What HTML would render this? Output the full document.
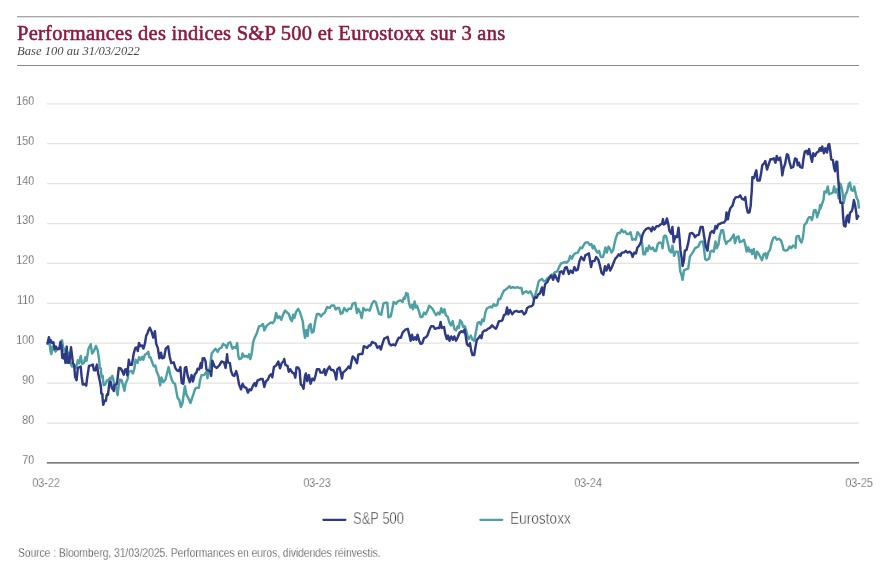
<!DOCTYPE html>
<html><head><meta charset="utf-8"><title>Chart</title>
<style>
html,body{margin:0;padding:0;background:#fff;}
body{width:891px;height:564px;position:relative;overflow:hidden;font-family:"Liberation Sans",sans-serif;}
.title{position:absolute;left:17px;top:20.6px;will-change:transform;font-family:"Liberation Serif",serif;font-weight:normal;font-size:20.5px;color:#8c1a42;-webkit-text-stroke:0.55px #8c1a42;white-space:nowrap;letter-spacing:0.25px;line-height:24px;}
.sub{position:absolute;left:17px;top:44px;will-change:transform;font-family:"Liberation Serif",serif;font-style:italic;font-size:12.6px;color:#4a4a4a;white-space:nowrap;line-height:14px;}
.yl{position:absolute;left:0;width:34.2px;text-align:right;font-size:13px;color:#2c2c2c;-webkit-text-stroke:0.33px #fff;will-change:transform;line-height:16px;transform:scaleX(0.83);transform-origin:100% 50%;}
.xl{position:absolute;top:475px;width:60px;margin-left:-30px;text-align:center;font-size:13px;color:#2c2c2c;-webkit-text-stroke:0.33px #fff;will-change:transform;line-height:16px;white-space:nowrap;transform:scaleX(0.83);transform-origin:50% 50%;}
.leg{position:absolute;top:509.5px;font-size:16px;color:#343434;-webkit-text-stroke:0.4px #fff;will-change:transform;line-height:18px;white-space:nowrap;transform-origin:0 50%;}
.foot{position:absolute;left:17.6px;top:545.5px;font-size:12px;color:#303030;-webkit-text-stroke:0.28px #fff;will-change:transform;line-height:14px;white-space:nowrap;transform:scaleX(0.852);transform-origin:0 50%;}
svg{position:absolute;left:0;top:0;}
</style></head><body>
<div class="title">Performances des indices S&amp;P 500 et Eurostoxx sur 3 ans</div>
<div class="sub">Base 100 au 31/03/2022</div>
<div class="yl" style="top:92.7px">160</div><div class="yl" style="top:132.6px">150</div><div class="yl" style="top:172.5px">140</div><div class="yl" style="top:212.4px">130</div><div class="yl" style="top:252.3px">120</div><div class="yl" style="top:292.2px">110</div><div class="yl" style="top:332.1px">100</div><div class="yl" style="top:372.0px">90</div><div class="yl" style="top:411.9px">80</div><div class="yl" style="top:451.8px">70</div>
<svg width="891" height="564" viewBox="0 0 891 564">
<g stroke="#8b8789" stroke-width="1.05"><line x1="17" x2="859" y1="16.68" y2="16.68"/><line x1="17" x2="859" y1="65.58" y2="65.58"/></g>
<g stroke="#e6e3dd" stroke-width="1.25"><line x1="46.8" x2="859" y1="103.80" y2="103.80"/><line x1="46.8" x2="859" y1="143.70" y2="143.70"/><line x1="46.8" x2="859" y1="183.60" y2="183.60"/><line x1="46.8" x2="859" y1="223.50" y2="223.50"/><line x1="46.8" x2="859" y1="263.40" y2="263.40"/><line x1="46.8" x2="859" y1="303.30" y2="303.30"/><line x1="46.8" x2="859" y1="343.20" y2="343.20"/><line x1="46.8" x2="859" y1="383.10" y2="383.10"/><line x1="46.8" x2="859" y1="423.00" y2="423.00"/></g>
<line x1="46.8" x2="859" y1="462.85" y2="462.85" stroke="#505050" stroke-width="1.45"/>
<polyline fill="none" stroke="#4fa0a3" stroke-width="2.45" stroke-linejoin="round" stroke-linecap="butt" points="46.5,343.5 49.7,344.2 50.6,351.6 51.4,354.1 52.4,346.6 53.7,349.1 55.5,351.6 57.4,349.1 59.9,347.9 61.1,342.3 62.1,340.4 63.0,346.6 64.2,351.6 64.8,349.1 66.1,355.3 67.3,359.0 68.6,352.8 69.8,361.5 72.0,366.5 73.5,365.9 76.0,367.7 77.9,360.3 79.1,363.4 80.7,355.9 82.2,364.0 84.1,362.8 85.3,357.2 86.6,360.9 88.4,349.1 90.7,344.2 92.1,353.5 94.0,351.0 95.9,346.0 97.7,350.4 99.0,359.0 99.8,367.7 100.8,368.5 101.5,377.2 102.7,375.9 103.6,385.2 105.2,384.6 107.0,380.3 108.9,379.6 110.1,377.8 111.4,379.0 112.3,375.9 113.3,379.6 114.1,383.4 115.7,384.6 116.4,389.6 117.6,395.2 118.8,384.6 120.1,379.6 121.7,380.3 122.9,384.6 124.4,390.8 125.7,383.4 127.5,379.6 128.8,371.6 131.3,371.0 132.9,373.4 134.4,368.5 135.6,359.8 137.5,362.9 139.0,357.3 140.6,359.8 142.1,356.7 143.3,359.8 144.9,354.8 146.8,353.6 148.3,351.7 149.3,357.3 150.6,357.5 152.2,362.3 153.8,366.3 155.4,365.5 156.5,371.1 158.6,375.9 160.2,385.4 161.4,377.4 163.3,382.2 165.4,379.8 167.0,373.5 168.6,367.1 170.2,374.3 171.8,379.8 173.4,383.0 175.0,383.8 176.6,392.6 177.7,398.2 179.3,399.8 180.9,407.0 182.5,403.0 184.1,391.8 184.9,386.2 186.5,395.0 188.4,398.2 190.5,403.0 192.1,398.2 193.7,393.4 195.2,388.6 196.8,387.8 198.9,387.8 200.0,380.6 201.6,375.1 204.0,375.1 206.4,371.9 207.5,378.2 208.8,371.1 210.1,366.3 211.7,353.5 213.6,351.1 215.5,348.7 217.6,351.9 219.2,348.7 221.2,347.9 223.2,343.9 225.6,345.5 226.7,347.9 228.3,343.1 230.3,342.3 232.4,348.7 234.3,347.1 235.9,347.9 237.2,343.1 238.3,355.9 239.4,359.1 241.5,358.3 242.6,353.5 244.2,356.7 246.3,355.9 247.9,357.5 249.0,354.3 250.3,359.1 251.6,354.3 253.1,342.3 254.7,337.6 256.7,333.6 259.0,326.4 261.1,325.6 263.0,324.0 264.3,330.4 266.2,326.4 268.6,324.0 271.0,322.4 272.6,323.2 274.5,320.8 276.1,313.0 277.8,318.1 279.5,316.4 281.2,319.8 283.4,313.9 285.1,310.5 286.8,312.2 288.8,313.9 290.5,319.0 291.9,321.2 293.1,314.7 294.3,318.1 296.0,312.2 298.2,308.8 299.9,312.2 301.6,317.3 302.8,321.5 303.8,330.9 305.0,337.7 306.2,330.0 307.6,336.0 308.9,325.8 310.6,324.1 311.8,332.6 313.5,331.7 315.2,321.5 316.9,313.9 319.2,313.9 320.9,316.4 322.9,313.9 324.6,313.0 327.2,307.1 329.7,307.9 331.4,305.4 334.0,305.4 335.7,309.6 337.4,307.9 339.1,307.9 340.8,313.9 342.5,313.0 344.2,307.9 346.8,311.3 348.5,308.8 351.0,308.8 352.7,303.7 355.3,302.8 357.0,313.0 358.3,308.8 360.4,313.0 361.7,318.1 363.4,307.9 365.5,310.5 367.2,309.6 369.7,310.5 372.0,303.7 374.0,301.1 375.7,302.0 377.4,307.9 379.1,313.9 381.2,314.7 383.4,303.7 385.1,302.8 387.3,302.8 388.5,317.3 390.7,316.4 391.9,311.3 393.6,302.0 396.1,303.7 398.2,301.1 400.4,300.3 402.6,302.0 403.8,297.7 405.0,298.6 406.1,293.0 407.8,293.9 409.0,303.2 410.3,307.5 412.0,304.9 412.9,309.2 414.6,301.5 415.8,307.5 417.1,305.8 418.8,310.9 420.5,316.9 422.3,316.9 424.0,312.6 425.7,314.3 427.4,310.9 429.1,305.8 431.1,307.5 432.8,309.2 434.5,312.6 436.2,315.1 437.9,312.6 439.6,314.3 441.3,308.3 442.7,312.6 444.4,309.2 445.8,315.1 447.8,316.9 449.5,322.8 450.9,325.4 452.6,321.1 454.3,328.8 456.0,330.5 457.7,326.2 458.9,327.9 460.1,320.3 461.8,322.0 463.1,327.1 464.8,326.2 466.2,330.5 467.4,335.6 468.6,339.0 470.8,335.6 472.5,339.8 474.2,340.7 475.9,332.2 477.6,322.8 479.3,322.0 481.0,324.5 482.2,319.4 483.9,321.1 485.3,312.6 487.0,308.3 488.7,307.5 490.4,306.6 492.1,307.5 493.8,304.1 495.5,305.8 497.2,304.9 498.6,299.0 500.3,299.0 502.0,294.7 504.0,290.5 505.7,289.6 507.7,287.9 509.5,286.2 510.8,287.9 512.9,287.1 515.1,287.9 517.3,287.1 519.0,287.9 521.4,287.9 522.7,293.9 524.4,292.2 526.5,291.3 528.2,293.0 530.4,291.3 532.1,294.7 533.3,298.1 535.0,297.3 535.2,295.1 536.9,289.2 538.6,281.5 540.3,279.8 542.0,279.0 544.1,281.5 545.8,280.7 547.5,278.1 549.7,276.4 551.4,274.7 553.1,274.7 554.8,272.2 557.4,271.3 559.1,267.1 560.8,263.7 562.8,262.8 565.0,262.0 566.7,262.8 568.9,260.3 570.1,256.0 571.8,258.6 573.5,255.1 575.2,253.4 577.8,252.6 580.4,247.5 582.1,248.3 583.8,244.9 585.5,242.4 588.0,242.4 589.7,244.9 591.4,244.1 592.8,248.3 594.0,245.8 595.7,250.0 597.4,252.6 599.1,250.9 600.8,256.9 603.0,256.9 604.2,252.6 605.4,247.5 606.8,252.6 608.5,246.6 610.2,249.2 611.5,252.6 613.2,250.0 614.4,244.1 616.1,237.3 617.8,233.0 620.0,233.0 621.7,229.6 623.4,232.2 625.1,231.3 626.8,233.9 628.9,233.9 630.6,232.2 632.3,239.8 634.0,239.0 635.7,239.8 637.4,232.2 639.1,233.9 640.8,237.3 642.2,244.1 643.4,254.3 645.1,254.3 646.3,248.3 647.6,250.9 649.0,245.8 651.0,249.2 652.7,247.5 654.4,250.9 656.1,250.9 657.8,244.1 659.5,242.4 661.6,243.2 662.6,248.3 663.8,236.4 665.0,235.6 666.1,236.3 667.8,243.1 669.5,250.7 671.2,252.4 672.4,245.6 674.1,255.8 675.8,251.6 678.0,251.6 679.2,260.1 680.2,271.1 681.4,274.6 682.6,279.7 684.0,270.3 686.0,269.4 688.2,268.6 689.9,256.7 691.6,254.1 693.3,251.6 695.0,248.2 696.7,247.3 698.4,246.5 700.1,242.2 702.7,241.4 704.1,249.0 705.2,259.2 706.9,260.1 709.2,258.4 710.4,251.6 712.1,250.7 713.8,251.6 715.5,241.4 716.7,248.2 718.4,244.8 719.7,236.3 721.4,230.3 723.1,230.3 724.5,238.8 726.2,243.9 727.9,241.4 729.9,240.5 731.6,238.0 733.7,234.6 735.0,243.1 736.8,237.1 738.5,236.3 739.8,242.2 741.9,241.4 743.9,239.7 745.3,244.8 746.6,251.6 748.3,247.3 749.5,251.6 751.2,249.9 752.1,254.1 753.8,249.0 755.5,258.4 757.2,251.6 758.9,254.1 760.6,257.5 762.0,260.1 763.7,254.1 765.4,253.3 766.6,258.4 768.3,252.4 770.0,249.9 771.7,242.2 773.4,238.0 775.1,237.1 776.8,239.7 779.0,238.8 781.0,240.5 782.4,244.8 783.6,249.9 785.8,250.7 787.8,249.9 789.5,246.5 791.3,248.2 793.0,245.6 795.0,246.5 795.5,247.9 796.3,237.2 797.6,236.0 798.9,236.2 799.9,240.1 801.5,242.5 802.8,238.2 803.8,230.4 804.3,225.0 805.2,224.0 806.7,222.6 807.7,219.1 809.0,217.2 810.6,217.2 811.9,220.1 813.0,215.7 814.0,210.4 815.5,209.9 816.5,213.3 817.1,217.2 818.4,213.3 819.4,209.9 820.1,205.0 820.5,208.6 822.2,203.5 823.6,199.3 824.4,191.6 826.1,192.5 827.8,186.5 829.0,194.2 831.2,193.3 832.9,192.5 834.1,186.5 835.5,192.5 837.2,189.1 838.6,198.4 839.7,183.1 840.9,184.8 842.3,190.8 843.7,202.7 845.4,195.0 847.1,191.6 848.8,184.0 850.0,182.6 851.2,189.9 852.9,190.8 854.2,186.5 855.6,193.3 856.8,198.4 858.0,200.1 859.0,208.6"/>
<polyline fill="none" stroke="#2e3a84" stroke-width="2.45" stroke-linejoin="round" stroke-linecap="butt" points="46.5,343.5 47.7,342.9 48.9,337.3 49.9,342.3 50.9,340.4 51.8,342.9 53.4,342.3 54.7,349.1 55.9,346.6 57.4,349.1 59.2,349.1 60.5,341.7 61.4,345.4 62.3,357.8 63.6,358.4 64.3,354.1 65.5,363.0 66.7,346.6 67.6,362.8 69.2,362.8 71.0,347.3 72.0,355.3 72.9,363.4 74.1,364.6 75.1,377.0 76.6,380.1 77.9,367.7 79.5,367.1 80.7,366.5 81.6,376.4 82.8,384.5 84.4,383.9 86.2,385.7 87.2,377.7 89.0,365.9 90.9,365.3 92.8,364.6 94.0,370.2 95.5,370.2 96.9,364.6 98.4,374.6 99.6,380.1 100.2,382.8 101.0,387.8 101.3,393.4 102.4,394.1 102.7,399.8 103.3,404.8 104.1,402.0 104.9,400.5 105.9,400.9 106.6,395.6 107.3,394.1 108.0,394.9 108.8,387.8 109.5,381.7 110.5,381.4 111.2,384.2 112.0,388.5 113.0,388.8 113.7,391.0 114.4,384.9 115.5,384.6 116.6,384.2 117.3,380.7 118.0,375.0 118.8,367.9 120.7,368.5 122.2,371.0 123.8,374.7 125.0,369.7 126.3,369.1 127.3,375.3 128.8,359.8 130.0,364.8 131.9,364.8 133.7,353.6 135.3,348.0 136.8,347.4 137.8,351.1 139.0,343.0 140.3,346.1 142.1,345.5 143.4,348.6 144.9,343.7 146.2,335.6 147.4,333.7 148.6,330.0 149.8,327.7 151.7,332.0 153.3,337.6 154.9,331.2 156.2,343.9 157.8,347.9 159.4,358.3 161.0,352.7 162.2,358.3 164.1,357.5 165.7,348.7 168.1,346.3 169.7,356.7 171.3,363.1 173.7,362.3 175.3,367.9 176.9,370.3 178.8,371.1 180.4,367.1 181.7,383.0 183.3,383.8 184.9,367.9 186.2,367.1 187.7,375.9 189.7,382.2 191.6,375.1 192.9,381.4 194.8,374.3 196.4,372.7 197.6,368.7 199.2,369.5 200.8,363.1 201.6,367.9 202.7,358.3 204.3,358.3 205.6,361.5 206.4,369.5 208.0,370.3 210.1,371.1 211.2,375.9 212.3,360.7 214.4,366.3 216.8,367.9 219.2,365.5 221.6,361.5 224.0,362.3 225.6,367.9 227.1,354.3 227.9,362.3 229.9,363.1 231.1,371.1 232.7,375.1 234.3,375.9 236.2,371.1 237.5,375.9 239.1,384.6 241.0,389.4 242.6,383.8 244.2,387.0 246.3,387.8 247.9,392.6 249.5,389.4 251.1,390.2 253.1,385.4 254.7,383.0 255.9,386.2 257.5,380.6 259.0,379.8 261.1,379.0 262.7,379.0 264.3,387.0 265.9,381.4 267.8,379.8 269.4,375.9 271.0,374.3 272.3,377.4 273.9,367.1 275.0,366.3 276.6,364.9 278.3,361.5 280.0,368.3 281.7,363.2 283.4,361.5 284.2,359.0 285.4,364.9 287.5,365.8 288.8,371.7 290.2,369.2 292.3,372.6 294.0,373.4 295.3,377.7 296.5,367.5 298.2,367.5 299.6,370.0 300.8,384.5 302.1,385.4 303.5,388.8 305.0,376.0 305.9,373.4 307.2,381.1 308.9,375.1 310.6,383.7 312.3,378.6 314.1,380.3 315.8,374.3 316.9,369.2 319.2,369.2 320.4,372.6 322.9,372.6 324.3,369.2 325.5,375.1 327.2,370.0 329.4,366.6 331.1,370.0 333.1,370.0 334.8,372.6 336.2,379.4 337.4,369.2 339.6,367.5 340.8,372.6 342.0,378.6 343.0,372.6 345.0,370.9 346.8,369.2 348.5,366.6 350.2,368.3 351.5,361.5 352.7,356.4 354.4,358.1 356.1,361.5 357.0,363.2 358.3,354.7 360.4,353.9 362.4,353.9 363.8,346.2 365.8,347.1 367.2,347.9 368.9,345.4 370.6,345.4 372.0,342.0 374.0,342.8 375.7,343.7 377.4,347.9 379.5,346.2 380.8,349.6 382.5,343.7 384.2,338.6 386.3,337.7 387.6,336.9 389.3,343.7 391.0,345.4 393.1,344.5 395.3,345.4 397.0,341.1 398.7,337.7 400.9,337.7 402.6,332.6 405.0,330.0 405.6,329.6 407.8,328.8 409.5,335.6 410.7,340.7 412.0,334.7 413.4,339.8 415.1,337.3 416.3,339.8 417.5,334.7 419.2,340.7 420.5,343.7 422.3,343.2 424.0,338.1 425.7,337.3 427.4,335.6 429.1,330.5 431.1,326.2 433.3,326.2 435.0,328.8 437.6,327.9 439.3,327.9 440.6,322.0 441.8,327.9 444.1,327.1 445.2,333.9 446.9,339.0 448.1,335.6 449.5,340.7 451.2,336.4 452.9,339.8 454.3,336.4 456.0,340.7 457.7,337.3 459.4,333.0 461.4,331.3 463.1,332.2 464.5,329.6 465.7,335.6 466.9,344.1 468.6,345.8 469.9,343.2 471.3,350.9 472.5,355.1 474.2,355.1 475.4,347.5 476.8,339.8 478.5,338.1 480.2,335.6 481.5,338.1 482.7,332.2 484.4,330.5 486.1,330.5 487.8,328.8 490.0,327.9 492.1,325.4 493.8,327.1 495.8,328.8 497.2,326.2 498.9,321.1 500.6,321.1 502.3,320.3 504.0,315.1 505.7,314.3 507.1,307.5 508.3,314.3 510.0,310.0 512.2,314.3 514.2,311.7 516.3,310.9 518.0,311.7 520.2,311.7 521.9,310.9 524.1,314.3 525.8,312.6 527.0,308.3 529.2,306.6 531.3,306.3 533.0,304.9 534.3,298.1 535.0,297.3 536.6,297.7 538.3,294.3 540.0,293.4 542.0,287.5 543.4,295.1 545.1,284.1 547.1,282.4 548.8,279.0 551.4,275.6 553.1,279.8 554.8,274.7 556.5,278.1 558.2,281.5 559.9,272.2 561.6,271.3 563.3,273.9 565.0,267.9 566.7,267.1 568.9,273.9 570.6,270.5 572.7,273.0 574.4,267.1 576.1,270.5 577.8,269.6 579.5,261.1 581.2,256.9 583.8,260.3 585.5,255.1 587.2,254.3 588.9,253.4 590.1,261.1 591.1,267.1 592.3,261.1 594.5,261.1 596.2,256.9 598.2,259.4 599.9,265.4 601.6,273.0 603.3,274.7 605.0,266.2 606.4,270.5 608.5,264.5 610.2,270.5 611.9,267.1 613.6,262.8 615.3,258.6 617.0,256.9 618.7,254.3 620.4,256.0 621.7,252.6 623.8,252.6 625.8,250.9 627.5,252.6 629.7,251.7 631.4,253.4 632.6,256.9 634.3,252.6 636.0,253.4 637.4,247.5 639.1,245.8 640.8,242.4 642.5,234.7 644.2,231.3 646.3,228.8 648.5,227.9 650.2,228.8 651.4,231.3 652.7,227.1 654.4,229.6 656.5,226.2 658.7,226.2 660.4,224.5 662.1,223.7 663.0,219.1 663.8,224.5 665.0,223.7 665.6,223.5 666.9,218.4 668.3,224.3 669.5,231.1 671.2,233.7 672.4,226.9 673.7,242.2 675.4,236.3 677.1,237.1 678.5,227.7 679.7,239.7 680.5,250.7 681.9,259.2 682.6,266.0 684.0,260.1 684.8,250.7 686.5,249.9 688.2,243.1 689.9,233.7 692.1,232.9 693.8,234.6 695.0,237.1 696.7,235.4 698.9,234.6 700.6,226.9 702.7,226.9 704.1,236.3 705.8,246.5 707.5,250.7 708.6,241.4 710.4,232.9 712.1,231.1 713.8,232.9 715.5,226.0 716.7,228.6 718.4,224.3 720.6,223.5 722.3,222.6 724.0,222.6 725.7,220.1 726.5,212.4 727.9,219.2 729.1,212.4 730.3,208.2 732.5,205.6 734.2,199.7 735.9,197.1 738.5,197.1 740.2,195.4 741.9,198.8 743.9,199.7 745.3,197.1 746.6,207.3 747.8,212.4 749.5,212.4 750.7,205.6 751.2,197.1 751.7,192.0 752.4,177.1 754.1,178.0 755.4,172.9 756.3,170.3 757.5,180.6 759.7,180.6 760.9,174.6 762.3,165.2 764.0,163.5 765.3,161.0 767.0,169.5 768.7,164.4 770.4,159.3 772.1,159.3 773.8,158.4 775.5,162.7 776.7,155.9 778.4,160.1 780.1,157.6 781.3,165.2 782.3,175.4 783.5,168.6 785.2,163.5 786.9,154.2 788.1,155.0 789.5,161.8 791.2,167.8 793.2,166.9 795.0,158.4 796.7,159.3 797.7,165.2 798.9,162.7 800.1,166.9 802.3,167.8 803.5,158.4 804.8,151.6 806.5,150.8 807.9,154.2 809.1,149.1 810.8,156.7 812.0,161.8 813.3,153.3 815.0,155.9 816.8,152.5 818.5,151.6 819.8,148.2 821.0,150.8 822.2,146.5 823.9,153.3 825.3,148.2 827.0,152.5 828.3,144.8 829.2,144.0 830.4,151.6 831.2,159.3 832.9,160.1 834.1,167.8 835.1,171.2 836.3,161.8 837.2,161.8 838.0,177.1 839.2,190.8 840.3,202.7 842.3,202.7 843.2,218.0 844.0,225.7 845.4,226.5 846.6,217.1 847.7,215.4 848.8,222.3 850.0,212.9 851.7,211.2 852.5,208.6 853.9,200.1 855.1,205.2 856.3,212.9 856.8,218.9 858.0,216.3 859.0,215.4"/>
<line x1="323.4" x2="345.4" y1="519.8" y2="519.8" stroke="#2e3a84" stroke-width="2.2" stroke-linecap="round"/>
<line x1="480.3" x2="502.3" y1="519.8" y2="519.8" stroke="#4fa0a3" stroke-width="2.2" stroke-linecap="round"/>
</svg>
<div class="xl" style="left:46.2px">03-22</div>
<div class="xl" style="left:317.2px">03-23</div>
<div class="xl" style="left:588.1px">03-24</div>
<div class="xl" style="left:858.9px">03-25</div>
<div class="leg" style="left:353px;transform:scaleX(0.81)">S&amp;P 500</div>
<div class="leg" style="left:510px;transform:scaleX(0.853)">Eurostoxx</div>
<div class="foot">Source : Bloomberg, 31/03/2025. Performances en euros, dividendes réinvestis.</div>
</body></html>
